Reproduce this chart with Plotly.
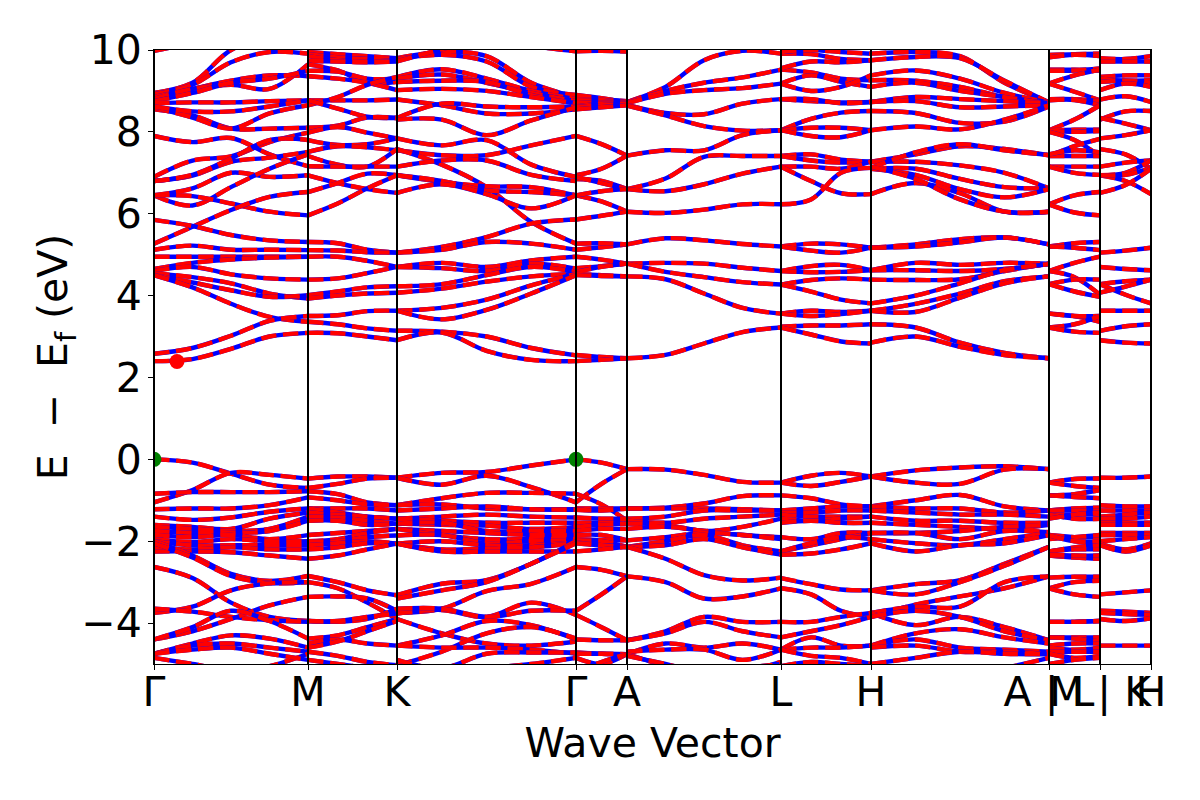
import plotly.graph_objects as go

K_TICKS = [0, 1.54, 2.43, 4.22, 4.73, 6.27, 7.17, 8.95, 9.46, 9.97]
K_LABELS = ["Γ", "M", "K", "Γ", "A", "L", "H", "A | L", "M | K", "H"]
E_TICKS = [-4, -2, 0, 2, 4, 6, 8, 10]

GAMMA_M = [
 [9.98,10.2,10.6,10.8,10.6],[8.95,9.2,10.0,10.3,10.2],[8.92,9.15,9.7,9.95,9.91],[8.85,9.05,9.25,9.38,9.36],
 [8.8,9.05,9.15,9.05,9.65],[8.75,8.95,9.2,9.3,9.49],[8.7,8.72,8.72,8.75,8.77],[8.55,8.4,8.08,8.08,8.1],
 [8.6,8.35,8.08,8.45,8.65],[8.62,8.5,8.5,8.62,8.77],[7.9,7.75,7.85,7.45,7.16],[6.9,7.3,7.4,7.75,7.98],
 [6.8,6.93,7.27,7.37,7.51],[6.8,6.95,7.35,7.8,7.8],[6.45,6.62,7.0,6.9,6.94],[6.45,6.2,6.65,7.1,7.45],
 [6.45,6.43,6.25,6.05,5.96],[5.27,5.68,6.09,6.41,6.53],[5.85,5.7,5.48,5.35,5.31],[5.12,5.22,5.12,5.12,5.11],
 [4.95,4.95,4.95,4.95,4.95],[4.65,4.8,4.88,4.93,4.95],[4.6,4.7,4.52,4.42,4.39],[4.55,4.45,4.3,4.05,3.93],
 [4.5,4.32,4.13,3.97,4.01],[4.5,4.2,3.8,3.48,3.36],[2.58,2.72,3.02,3.38,3.5],[2.4,2.45,2.7,3.0,3.09],
 [0,-0.08,-0.35,-0.62,-0.7],[-1.05,-0.75,-0.33,-0.38,-0.47],[-0.84,-0.8,-0.8,-0.8,-0.78],[-1.22,-1.2,-1.2,-1.12,-0.93],
 [-1.4,-1.48,-1.42,-1.28,-1.2],[-1.6,-1.65,-1.7,-1.45,-1.3],[-1.65,-1.7,-1.75,-1.7,-1.4],[-1.75,-1.8,-1.8,-1.75,-1.5],
 [-1.85,-1.9,-1.85,-1.95,-1.85],[-1.95,-2.02,-1.95,-2.0,-2.0],[-2.0,-2.1,-2.1,-2.1,-2.1],[-2.15,-2.2,-2.15,-2.2,-2.2],
 [-2.25,-2.25,-2.27,-2.35,-2.43],[-2.0,-2.35,-2.8,-2.97,-2.85],[-2.05,-2.4,-2.85,-3.02,-3.0],[-2.63,-2.9,-3.5,-3.85,-3.95],
 [-3.75,-3.6,-3.2,-3.03,-3.0],[-3.65,-3.72,-3.85,-3.93,-3.97],[-4.4,-4.2,-3.9,-3.57,-3.36],[-4.4,-4.1,-3.7,-3.95,-4.38],
 [-4.75,-4.5,-4.3,-4.38,-4.6],[-4.75,-4.55,-4.5,-4.6,-4.7],[-4.85,-5,-5.15,-5.05,-4.75],[-4.75,-4.65,-4.6,-4.75,-4.9],
]
M_K = [
 [9.95,9.9,9.85,9.8],[9.9,9.82,9.78,9.78],[9.85,9.75,9.72,9.75],[9.73,9.72,9.7,9.72],[9.65,9.5,9.2,9.22],
 [9.49,9.47,9.3,9.3],[9.36,9.3,9.2,9.02],[8.77,8.77,8.77,8.79],[8.65,8.85,9.15,9.34],[8.77,8.57,8.37,8.34],
 [8.1,8.15,8.35,8.34],[7.98,8.12,7.98,7.84],[7.8,7.68,7.7,7.84],[7.51,7.65,7.62,7.55],[7.41,7.2,7.15,7.58],
 [7.16,7.15,7.15,7.15],[6.94,6.75,6.6,6.51],[6.53,6.75,6.98,6.94],[5.96,6.25,6.62,6.94],[5.31,5.28,5.12,5.05],
 [5.11,5.1,5.06,5.05],[4.95,4.95,4.85,4.7],[4.39,4.42,4.55,4.7],[4.01,4.1,4.2,4.23],[3.93,4.0,4.05,4.07],
 [3.5,3.52,3.62,3.63],[3.36,3.3,3.2,3.14],[3.09,3.08,3.0,2.91],
 [-0.47,-0.42,-0.42,-0.45],[-0.7,-0.6,-0.47,-0.45],[-0.78,-0.85,-1.05,-1.12],[-0.93,-1.0,-1.1,-1.12],
 [-1.2,-1.2,-1.2,-1.25],[-1.2,-1.3,-1.4,-1.45],[-1.3,-1.35,-1.4,-1.45],[-1.4,-1.42,-1.5,-1.57],[-1.5,-1.5,-1.6,-1.57],
 [-1.85,-1.8,-1.75,-1.7],[-2.0,-1.95,-1.8,-1.7],[-2.0,-2.0,-1.9,-1.86],[-2.1,-2.05,-2.0,-2.06],[-2.2,-2.15,-2.05,-2.06],
 [-2.43,-2.35,-2.2,-2.06],[-2.85,-3.0,-3.2,-3.32],[-3.0,-3.15,-3.5,-3.9],[-3.36,-3.35,-3.4,-3.7],[-3.95,-3.97,-3.9,-3.65],
 [-3.95,-3.95,-3.85,-3.77],[-4.38,-4.3,-4.1,-3.9],[-4.5,-4.4,-4.5,-4.55],[-4.6,-4.45,-4.2,-3.95],[-4.7,-4.8,-4.95,-5.03],
 [-4.9,-5.0,-5.1,-5.2],
]
K_GAMMA = [
 [9.8,9.95,9.85,9.2,8.85],[9.78,9.88,9.72,9.1,8.9],[9.72,10.02,10.3,10.1,9.97],[9.34,9.53,9.3,9.0,8.8],
 [9.3,9.4,9.2,8.95,8.75],[9.22,9.25,9.22,8.9,8.7],[9.02,9.05,9.0,8.85,8.7],[8.79,8.65,8.45,8.45,8.55],
 [8.34,8.69,8.62,8.6,8.62],[8.3,8.3,7.92,8.28,8.6],[7.84,7.67,7.8,7.2,6.9],[7.55,7.43,7.43,7.67,7.9],
 [7.58,7.2,6.65,5.8,5.27],[7.15,7.3,7.3,6.95,6.8],[6.94,6.78,6.67,6.65,6.45],[6.94,6.8,6.57,6.53,6.45],
 [6.51,6.72,6.48,6.13,6.45],[5.05,5.19,5.43,5.76,5.86],[5.05,5.12,5.31,5.27,5.12],[4.7,4.8,4.7,4.86,4.95],
 [4.7,4.67,4.6,4.78,4.66],[4.23,4.28,4.5,4.7,4.58],[4.07,4.17,4.34,4.47,4.53],[3.63,3.7,3.9,4.25,4.53],
 [3.63,3.42,3.65,4.05,4.5],[3.14,3.12,3.0,2.72,2.54],[2.91,3.1,2.65,2.43,2.4],
 [-0.45,-0.33,-0.31,-0.15,0],[-0.45,-0.62,-0.4,-0.68,-1.05],[-1.12,-0.95,-0.82,-0.82,-0.84],[-1.12,-1.1,-1.2,-1.22,-1.22],
 [-1.25,-1.2,-1.15,-1.22,-1.23],[-1.45,-1.4,-1.35,-1.4,-1.42],[-1.45,-1.5,-1.55,-1.55,-1.55],[-1.57,-1.6,-1.62,-1.7,-1.65],
 [-1.57,-1.55,-1.75,-1.75,-1.75],[-1.7,-1.75,-1.8,-1.85,-1.85],[-1.7,-1.85,-1.95,-1.95,-1.95],[-1.86,-1.85,-2.05,-2.0,-2.0],
 [-2.06,-2.0,-2.1,-2.1,-2.03],[-2.06,-2.2,-2.18,-2.15,-2.05],[-2.06,-2.25,-2.25,-2.25,-2.25],[-3.32,-3.04,-2.95,-2.55,-2.0],
 [-3.4,-3.2,-3.0,-2.55,-2.05],[-3.75,-3.65,-3.22,-3.04,-2.63],[-3.77,-3.68,-3.85,-3.5,-3.8],[-3.65,-3.65,-3.85,-3.7,-3.7],
 [-3.9,-4.25,-4.5,-4.55,-4.45],[-4.55,-4.3,-3.95,-4.05,-4.4],[-5.03,-4.7,-4.25,-4.1,-4.38],[-4.55,-4.6,-4.6,-4.65,-4.75],
 [-4.9,-5.1,-4.75,-4.72,-4.72],[-5.2,-5.2,-5.1,-5.0,-4.85],
]
GAMMA_A = [
 [9.97,9.98,9.96],[8.85,8.8,8.75],[8.9,8.82,8.72],[8.8,8.78,8.72],[8.75,8.75,8.7],[8.7,8.72,8.7],[8.62,8.68,8.68],
 [8.6,8.65,8.68],[8.55,8.6,8.65],[7.9,7.7,7.42],[6.94,7.1,7.42],[6.85,6.8,6.6],[6.9,6.75,6.6],[6.45,6.3,6.05],
 [6.45,6.55,6.6],[5.86,5.95,6.05],[5.12,5.18,5.25],[5.27,5.28,5.25],[4.95,4.88,4.78],[4.67,4.72,4.78],[4.58,4.7,4.78],
 [4.53,4.5,4.47],[4.5,4.48,4.47],[2.55,2.5,2.47],[2.4,2.43,2.47],
 [0,-0.08,-0.24],[-1.05,-0.6,-0.24],[-0.84,-1.1,-1.5],[-1.2,-1.2,-1.2],[-1.23,-1.25,-1.2],[-1.42,-1.45,-1.45],
 [-1.55,-1.55,-1.57],[-1.65,-1.6,-1.57],[-1.75,-1.7,-1.7],[-1.85,-1.85,-1.98],[-1.95,-1.97,-1.98],[-2.0,-2.0,-2.14],
 [-2.03,-2.1,-2.14],[-2.05,-2.1,-2.14],[-2.25,-2.2,-2.14],[-2.63,-2.7,-2.86],[-3.7,-3.3,-2.86],[-3.8,-4.1,-4.42],
 [-4.4,-4.42,-4.42],[-4.72,-4.75,-4.76],[-4.75,-4.75,-4.76],[-4.85,-5.0,-4.76],[-5.2,-4.95,-4.76],
]
A_L = [
 [8.73,9.1,9.75,9.98,9.91],[8.72,9.0,9.2,9.33,9.52],[8.7,8.93,9.02,9.07,9.18],[8.66,8.46,8.43,8.69,8.8],
 [8.64,8.4,8.14,8.03,8.04],[7.42,7.55,7.55,7.92,8.04],[6.6,6.86,7.39,7.41,7.41],[6.6,6.55,6.72,6.98,7.15],
 [6.05,6.02,6.1,6.23,6.23],[5.25,5.4,5.35,5.26,5.2],[4.78,4.8,4.78,4.68,4.6],[4.78,4.58,4.45,4.33,4.27],
 [4.47,4.4,4.05,3.7,3.56],[2.47,2.55,2.83,3.11,3.22],
 [-0.24,-0.25,-0.38,-0.55,-0.57],[-1.2,-1.18,-1.08,-0.9,-0.88],[-1.2,-1.2,-1.2,-1.22,-1.25],[-1.45,-1.4,-1.25,-1.25,-1.25],
 [-1.5,-1.55,-1.45,-1.4,-1.35],[-1.57,-1.6,-1.75,-1.65,-1.45],[-1.7,-1.65,-1.75,-1.85,-1.9],[-1.98,-1.9,-1.8,-1.85,-1.95],
 [-2.14,-2.0,-1.85,-2.1,-2.25],[-2.14,-2.1,-1.95,-2.15,-2.33],[-2.14,-2.43,-2.83,-2.96,-2.89],[-2.86,-3.0,-3.4,-3.35,-3.15],
 [-4.42,-4.2,-3.85,-3.97,-3.97],[-4.42,-4.25,-3.97,-4.2,-4.35],[-4.76,-4.5,-4.6,-4.5,-4.65],[-4.7,-4.65,-4.65,-4.9,-4.65],
 [-4.76,-5.05,-5.3,-5.2,-4.95],[-4.8,-5,-5.2,-5.1,-5.0],
]
L_H = [
 [9.91,9.9,9.78,9.75],[9.95,10.0,9.95,9.91],[9.52,9.45,9.3,9.26],[9.55,9.72,9.7,9.75],[9.18,9.38,9.22,9.1],[9.18,9.0,9.1,9.38],
 [8.8,8.75,8.72,8.73],[8.8,8.8,8.7,8.73],[8.04,8.32,8.47,8.51],[8.04,8.1,8.1,8.04],[8.04,7.9,7.87,8.04],[7.41,7.45,7.32,7.27],
 [7.41,7.3,7.25,7.27],[7.15,7.15,7.1,7.27],[7.15,6.8,6.5,6.48],[6.23,6.35,7.0,7.12],[5.2,5.27,5.25,5.17],[5.2,5.1,5.05,5.17],
 [4.6,4.72,4.75,4.62],[4.6,4.57,4.58,4.62],[4.27,4.38,4.42,4.39],[4.27,4.1,3.9,3.81],[3.56,3.63,3.6,3.63],[3.56,3.5,3.55,3.63],
 [3.24,3.27,3.27,3.3],[3.22,3.05,2.88,2.83],
 [-0.57,-0.4,-0.33,-0.42],[-0.57,-0.65,-0.55,-0.42],[-0.88,-0.95,-1.1,-1.15],[-1.25,-1.2,-1.15,-1.15],[-1.3,-1.3,-1.25,-1.25],
 [-1.35,-1.4,-1.4,-1.4],[-1.45,-1.5,-1.45,-1.4],[-1.55,-1.5,-1.55,-1.55],[-1.9,-1.95,-1.8,-1.8],[-2.25,-2.1,-1.95,-1.8],
 [-2.25,-2.05,-1.9,-1.95],[-2.33,-2.3,-2.2,-2.05],[-2.9,-3.05,-3.18,-3.2],[-3.15,-3.3,-3.7,-3.85],[-3.97,-3.97,-3.85,-3.75],
 [-4.35,-4.2,-4.05,-3.85],[-4.65,-4.35,-4.55,-4.55],[-4.65,-4.6,-4.6,-4.55],[-4.65,-4.8,-4.85,-5.0],[-5.05,-4.95,-5.0,-5.05],
]
H_A = [
 [9.91,9.95,9.85,9.2,8.72],[9.75,9.83,9.8,9.25,8.72],[9.38,9.5,9.3,8.95,8.72],[9.26,9.25,9.1,8.85,8.7],[9.1,9.2,9.0,8.85,8.68],
 [8.73,8.85,8.8,8.75,8.7],[8.73,8.75,8.6,8.62,8.65],[8.51,8.46,8.22,8.25,8.62],[8.04,8.13,8.06,8.3,8.65],[7.27,7.45,7.65,7.58,7.43],
 [7.27,7.27,7.18,7.0,6.62],[7.12,7.5,7.7,7.55,7.43],[7.1,7.1,6.85,6.65,6.62],[7.1,6.95,6.6,6.4,6.6],[6.48,6.75,6.5,6.05,6.05],
 [7.15,6.85,6.35,6.05,6.05],[5.17,5.25,5.38,5.42,5.25],[5.17,5.2,5.3,5.42,5.25],[4.62,4.8,4.75,4.8,4.78],[4.62,4.62,4.6,4.65,4.77],
 [4.39,4.38,4.4,4.6,4.78],[3.81,4.0,4.3,4.62,4.77],[3.63,3.8,4.05,4.35,4.47],[3.63,3.6,3.95,4.3,4.47],[3.3,3.22,2.85,2.6,2.47],
 [2.85,3.0,2.75,2.55,2.47],
 [-0.42,-0.27,-0.2,-0.17,-0.24],[-0.42,-0.57,-0.6,-0.25,-0.24],[-1.15,-1.0,-0.87,-1.15,-1.25],[-1.15,-1.2,-1.2,-1.3,-1.25],
 [-1.25,-1.3,-1.35,-1.35,-1.4],[-1.4,-1.5,-1.5,-1.55,-1.55],[-1.55,-1.6,-1.65,-1.7,-1.6],[-1.8,-1.8,-1.75,-1.65,-1.6],
 [-1.8,-1.8,-1.95,-1.75,-1.78],[-1.95,-2.05,-2.1,-1.95,-1.8],[-2.05,-2.25,-2.1,-2.05,-1.85],[-3.2,-3.05,-2.95,-2.55,-2.14],
 [-3.2,-3.3,-3.0,-2.6,-2.14],[-3.85,-3.55,-3.35,-3.15,-2.86],[-3.75,-3.6,-3.6,-3.0,-2.86],[-3.75,-4.05,-3.85,-4.1,-4.42],
 [-3.85,-3.7,-3.85,-4.2,-4.42],[-4.55,-4.25,-4.15,-4.35,-4.5],[-4.55,-4.4,-4.6,-4.65,-4.7],[-4.6,-4.55,-4.7,-4.7,-4.76],
 [-5.0,-4.85,-4.7,-4.75,-4.76],[-5.1,-5.2,-5.3,-5.1,-4.85],
]
L_M = [
 [9.88,9.9,9.91],[9.82,9.88,9.85],[9.52,9.52,9.5],[9.49,9.5,9.55],[9.18,9.38,9.52],[9.18,8.98,8.77],[8.8,8.8,8.75],[8.77,8.78,8.65],
 [8.04,8.3,8.65],[8.04,8.05,8.05],[8.02,8.0,8.02],[8.0,7.8,7.4],[7.41,7.65,7.83],[7.41,7.41,7.41],[7.45,7.55,7.5],[7.15,7.15,7.15],
 [7.15,7.0,6.95],[6.23,6.45,6.53],[6.23,6.03,5.96],[5.2,5.28,5.31],[5.2,5.17,5.11],[4.6,4.8,4.95],[4.6,4.45,4.02],[4.28,4.39,4.39],
 [4.28,4.1,3.97],[3.56,3.5,3.36],[3.56,3.5,3.5],[3.22,3.3,3.5],[3.22,3.12,3.09],
 [-0.57,-0.48,-0.47],[-0.57,-0.65,-0.7],[-0.88,-0.85,-0.75],[-0.88,-0.92,-0.95],[-1.25,-1.2,-1.18],[-1.25,-1.25,-1.25],
 [-1.35,-1.35,-1.35],[-1.35,-1.45,-1.45],[-1.45,-1.35,-1.3],[-1.85,-1.9,-1.9],[-1.95,-1.9,-1.85],[-1.85,-2.0,-2.0],[-2.25,-2.15,-2.1],
 [-2.25,-2.2,-2.2],[-2.35,-2.4,-2.43],[-2.33,-2.35,-2.35],[-2.89,-2.87,-2.87],[-3.15,-3.0,-2.97],[-3.15,-3.3,-3.36],[-3.97,-3.97,-3.95],
 [-3.97,-3.97,-3.95],[-4.35,-4.35,-4.35],[-4.35,-4.38,-4.45],[-4.55,-4.5,-4.5],[-4.6,-4.65,-4.6],[-4.7,-4.7,-4.7],[-4.75,-4.85,-4.8],
 [-5.0,-4.9,-4.85],
]
K_H = [
 [9.8,9.78,9.85],[9.72,9.72,9.72],[9.34,9.38,9.38],[9.3,9.25,9.26],[9.22,9.25,9.2],[9.02,9.18,9.1],[8.79,8.87,8.73],[8.3,8.5,8.51],
 [8.34,8.2,8.04],[7.84,7.92,8.04],[7.58,7.45,7.1],[7.15,7.25,7.3],[6.94,7.0,7.3],[6.94,6.8,6.48],[6.94,6.95,7.12],[6.51,6.7,7.1],
 [5.05,5.1,5.17],[4.7,4.65,4.62],[4.28,4.35,4.39],[4.28,4.02,3.81],[4.07,4.22,4.39],[3.63,3.63,3.63],[3.14,3.25,3.3],[2.91,2.85,2.83],
 [-0.45,-0.45,-0.42],[-1.12,-1.15,-1.15],[-1.25,-1.25,-1.25],[-1.4,-1.35,-1.3],[-1.45,-1.45,-1.4],[-1.55,-1.55,-1.55],[-1.6,-1.6,-1.6],
 [-1.8,-1.8,-1.8],[-1.85,-1.85,-1.85],[-2.0,-1.95,-1.9],[-2.06,-2.2,-2.05],[-2.1,-2.25,-2.1],[-3.3,-3.25,-3.2],[-3.7,-3.72,-3.75],
 [-3.75,-3.78,-3.8],[-3.9,-3.95,-3.88],[-4.55,-4.55,-4.55],
]
SEGMENTS = [GAMMA_M, M_K, K_GAMMA, GAMMA_A, A_L, L_H, H_A, L_M, K_H]

VBM_K = [0, 4.22]
VBM_E = [0, 0]
CBM_K = [0.23]
CBM_E = [2.39]

fig = go.Figure()
for i, seg in enumerate(SEGMENTS):
    k0, k1 = K_TICKS[i], K_TICKS[i + 1]
    for band in seg:
        n = len(band) - 1
        ks = [k0 + (k1 - k0) * j / n for j in range(n + 1)]
        fig.add_trace(go.Scatter(x=ks, y=band, mode="lines", hoverinfo="skip",
                                 line=dict(color="#0000ff", width=4.4, shape="spline", smoothing=1)))
        fig.add_trace(go.Scatter(x=ks, y=band, mode="lines", hoverinfo="skip",
                                 line=dict(color="#ff0000", width=4.4, shape="spline", smoothing=1,
                                           dash="15.4px,6.7px")))

for k in K_TICKS:
    fig.add_shape(type="line", xref="x", yref="paper", x0=k, x1=k, y0=0, y1=1,
                  line=dict(color="black", width=2), layer="above")

fig.add_trace(go.Scatter(x=VBM_K, y=VBM_E, mode="markers", hoverinfo="skip",
                         marker=dict(color="#008000", size=15, line=dict(width=0))))
fig.add_trace(go.Scatter(x=CBM_K, y=CBM_E, mode="markers", hoverinfo="skip",
                         marker=dict(color="#ff0000", size=15, line=dict(width=0))))

FONT = dict(family="DejaVu Sans", color="black", size=41)
fig.update_layout(
    width=1200, height=800, autosize=False, showlegend=False,
    paper_bgcolor="white", plot_bgcolor="white",
    margin=dict(l=154, r=49, t=50, b=136, pad=0),
    font=FONT,
    xaxis=dict(range=[K_TICKS[0], K_TICKS[-1]], tickmode="array", tickvals=K_TICKS, ticktext=K_LABELS,
               tickangle=0, ticks="outside", ticklen=5, tickwidth=1, tickcolor="black", ticklabelstandoff=-13,
               showgrid=False, zeroline=False, showline=True, linecolor="black", linewidth=1, mirror=True,
               tickfont=FONT, title=dict(text="Wave Vector", font=FONT, standoff=13)),
    yaxis=dict(range=[-5, 10], tickmode="array", tickvals=E_TICKS,
               ticks="outside", ticklen=5, tickwidth=1, tickcolor="black", ticklabelstandoff=-2,
               showgrid=False, zeroline=False, showline=True, linecolor="black", linewidth=1, mirror=True,
               tickfont=FONT, title=dict(text="E  −  E<sub>f</sub> (eV)", font=FONT, standoff=0)),
)
fig.write_html("out.html", config=dict(displayModeBar=False),
               post_script="document.body.style.margin='0';")
